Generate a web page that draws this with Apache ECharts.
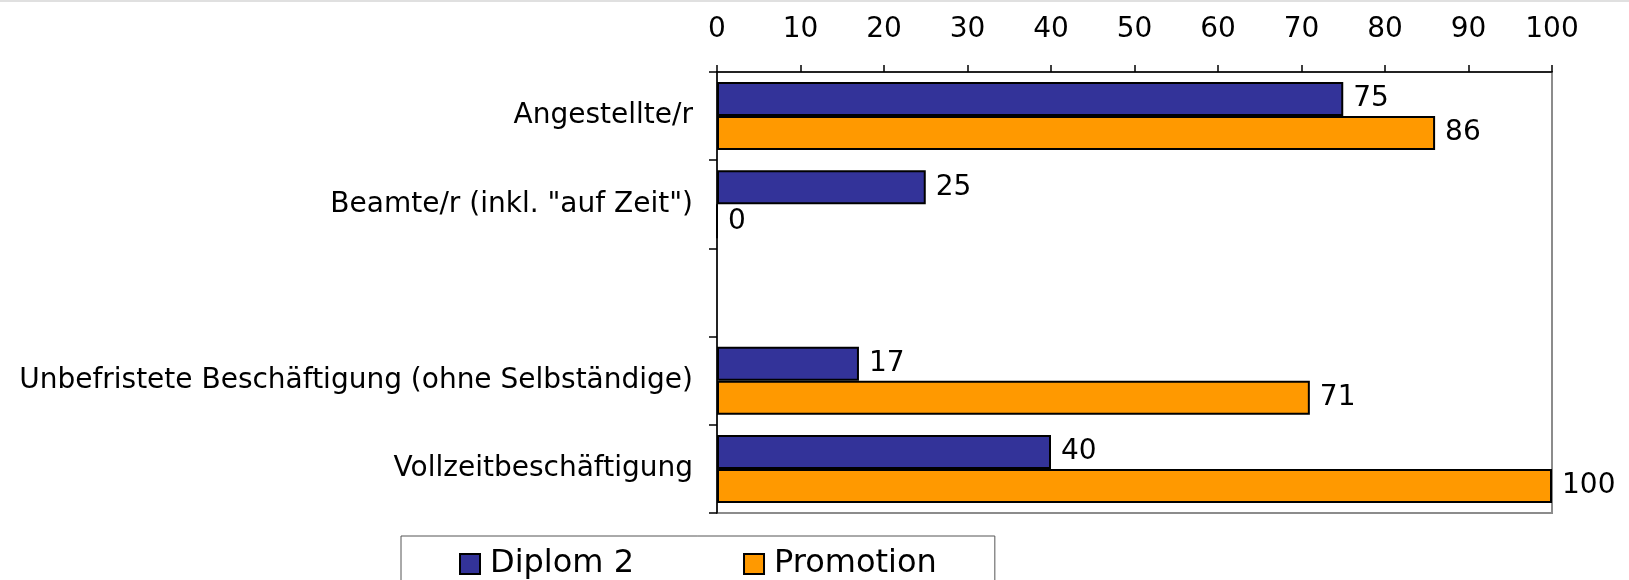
<!DOCTYPE html>
<html>
<head>
<meta charset="utf-8">
<script src="https://cdn.jsdelivr.net/npm/echarts@6/dist/echarts.min.js"></script>
<style>
html, body { margin: 0; padding: 0; background: #fff; }
#chart { width: 1629px; height: 580px; }
</style>
</head>
<body>
<div id="chart"></div>
<script>
const categories = ['Angestellte/r', 'Beamte/r (inkl. "auf Zeit")', '', 'Unbefristete Beschäftigung (ohne Selbständige)', 'Vollzeitbeschäftigung']
const seriesNames = ['Diplom 2', 'Promotion']
const diplom2 = [75, 25, null, 17, 40]
const promotion = [86, 0, null, 71, 100]
const colors = ['#333399', '#FF9900']

const font = 'DejaVu Sans'
const chart = echarts.init(document.getElementById('chart'))

function barSeries(name, data, color) {
  return {
    name: name,
    type: 'bar',
    data: data,
    barWidth: 34,
    barGap: '0%',
    itemStyle: { color: color, borderColor: '#000', borderWidth: 2 },
    label: {
      show: true,
      position: 'right',
      distance: 10,
      color: '#000',
      fontFamily: font,
      fontSize: 28
    }
  }
}

const option = {
  animation: false,
  backgroundColor: '#fff',
  graphic: [{
    type: 'rect',
    left: 0, top: 0,
    shape: { width: 1629, height: 2 },
    style: { fill: '#e0e0e0' }
  }],
  grid: {
    left: 717, right: 77, top: 72, bottom: 67,
    show: true,
    borderColor: '#8c8c8c',
    borderWidth: 2,
    backgroundColor: 'transparent'
  },
  legend: {
    left: 401,
    top: 536,
    itemWidth: 20,
    itemHeight: 20,
    itemGap: 109,
    icon: 'rect',
    padding: [12, 58, 30, 58],
    borderColor: '#555',
    borderWidth: 1,
    itemStyle: { borderColor: '#000', borderWidth: 2 },
    textStyle: { fontFamily: font, fontSize: 32, color: '#000', padding: [0, 0, 0, 5] },
    data: seriesNames
  },
  xAxis: {
    type: 'value',
    position: 'top',
    min: 0,
    max: 100,
    interval: 10,
    axisLine: { show: true, lineStyle: { color: '#000', width: 1.5 } },
    axisTick: { show: true, inside: false, length: 7, lineStyle: { color: '#000', width: 1.5 } },
    splitLine: { show: false },
    axisLabel: { fontFamily: font, fontSize: 28, color: '#000', margin: 28 }
  },
  yAxis: {
    type: 'category',
    inverse: true,
    data: categories,
    axisLine: { show: true, lineStyle: { color: '#000', width: 1.5 } },
    axisTick: { show: true, inside: false, length: 8, lineStyle: { color: '#000', width: 1.5 } },
    axisLabel: { fontFamily: font, fontSize: 28, color: '#000', margin: 24 }
  },
  series: [
    barSeries(seriesNames[0], diplom2, colors[0]),
    barSeries(seriesNames[1], promotion, colors[1])
  ]
}

chart.setOption(option, true)
</script>
</body>
</html>
